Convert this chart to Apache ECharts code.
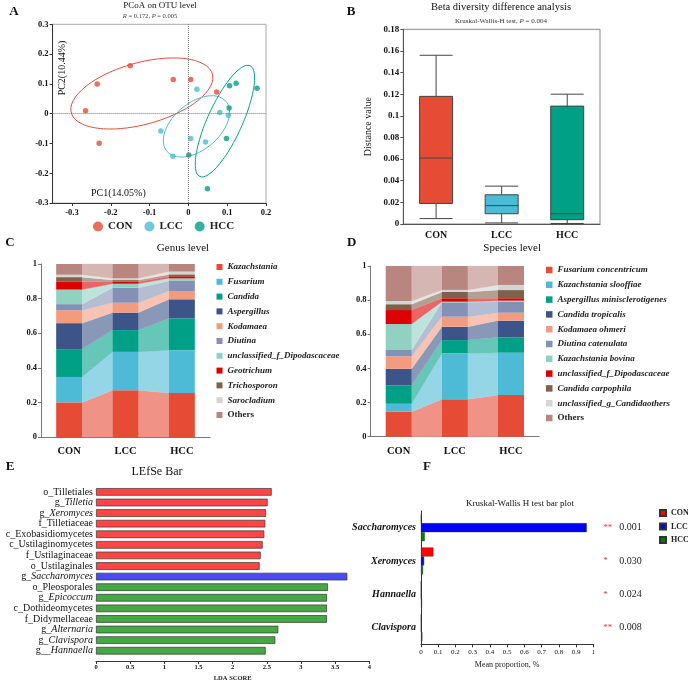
<!DOCTYPE html>
<html><head><meta charset="utf-8">
<script src="https://cdn.jsdelivr.net/npm/echarts@6/dist/echarts.min.js"></script>
<style>
html,body{margin:0;padding:0;background:#fff;width:688px;height:683px;overflow:hidden}
.p{position:absolute;left:0;top:0;width:688px;height:683px}
</style>
</head><body>
<div id="pa" class="p"></div><div id="pb" class="p"></div><div id="pc" class="p"></div>
<div id="pd" class="p"></div><div id="pe" class="p"></div><div id="pf" class="p"></div>
<script>
const F = 'Liberation Serif';

// ---------- A: PCoA ----------
const groups = ['CON', 'LCC', 'HCC'];
const pcoaColors = ['#E64B35', '#4DBBD5', '#00A087'];
const pcoaCON = [[-0.265,0.010],[-0.235,0.100],[-0.150,0.161],[-0.039,0.115],[0.006,0.115],[0.073,0.073],[-0.230,-0.099]];
const pcoaLCC = [[0.022,0.082],[0.081,0.004],[0.103,-0.005],[-0.071,-0.058],[0.006,-0.083],[0.044,-0.095],[-0.040,-0.143]];
const pcoaHCC = [[0.106,0.094],[0.123,0.102],[0.177,0.085],[0.105,0.019],[0.098,-0.083],[0.001,-0.139],[0.049,-0.252]];
const pcTicksX = [-0.3,-0.2,-0.1,0,0.1,0.2];

// ---------- B: boxplot ----------
const boxCON = [0.005, 0.019, 0.061, 0.118, 0.156];
const boxLCC = [0.001, 0.0095, 0.017, 0.027, 0.035];
const boxHCC = [0.0005, 0.004, 0.0095, 0.109, 0.120];

// ---------- C: genus ----------
const genusNames = ['Kazachstania','Fusarium','Candida','Aspergillus','Kodamaea','Diutina','unclassified_f_Dipodascaceae','Geotrichum','Trichosporon','Sarocladium','Others'];
const genusCON = [0.200,0.147,0.161,0.150,0.075,0.035,0.084,0.045,0.027,0.014,0.062];
const genusLCC = [0.270,0.222,0.126,0.101,0.057,0.087,0.023,0.012,0.009,0.010,0.083];
const genusHCC = [0.255,0.247,0.184,0.110,0.048,0.058,0.015,0.012,0.011,0.016,0.044];
const genusColors = ['#E64B35','#4DBBD5','#00A087','#3C5488','#F39B7F','#8491B4','#91D1C2','#DC0000','#7E6148','#D4D4D4','#B9857F'];

// ---------- D: species ----------
const speciesNames = ['Fusarium concentricum','Kazachstania slooffiae','Aspergillus minisclerotigenes','Candida tropicalis','Kodamaea ohmeri','Diutina catenulata','Kazachstania bovina','unclassified_f_Dipodascaceae','Candida carpophila','unclassified_g_Candidaothers','Others'];
const speciesCON = [0.146,0.047,0.108,0.097,0.073,0.037,0.152,0.082,0.034,0.019,0.205];
const speciesLCC = [0.219,0.269,0.078,0.078,0.059,0.084,0.004,0.020,0.037,0.012,0.140];
const speciesHCC = [0.244,0.248,0.090,0.098,0.046,0.065,0.006,0.014,0.048,0.030,0.111];
const speciesColors = ['#E64B35','#4DBBD5','#00A087','#3C5488','#F39B7F','#8491B4','#91D1C2','#DC0000','#7E6148','#D4D4D4','#B9857F'];

// ---------- E: LEfSe ----------
const lefseNames = ['o_Tilletiales','g_Tilletia','g_Xeromyces','f_Tilletiaceae','c_Exobasidiomycetes','c_Ustilaginomycetes','f_Ustilaginaceae','o_Ustilaginales','g_Saccharomyces','o_Pleosporales','g_Epicoccum','c_Dothideomycetes','f_Didymellaceae','g_Alternaria','g_Clavispora','g__Hannaella'];
const lefseScores = [2.571,2.512,2.488,2.478,2.463,2.439,2.410,2.395,3.678,3.395,3.380,3.380,3.380,2.668,2.624,2.483];
const lefseGroups = ['CON','CON','CON','CON','CON','CON','CON','CON','LCC','HCC','HCC','HCC','HCC','HCC','HCC','HCC'];
const lefseColors = {CON:'#FF4545', LCC:'#4B4BF5', HCC:'#45A845'};

// ---------- F: Kruskal-Wallis ----------
const krNames = ['Saccharomyces','Xeromyces','Hannaella','Clavispora'];
const krCON = [0.001,0.072,0.0005,0.0005];
const krLCC = [0.962,0.018,0.0005,0.001];
const krHCC = [0.022,0.012,0.006,0.008];
const krStars = ['**','*','*','**'];
const krP = ['0.001','0.030','0.024','0.008'];
const krColors = ['#FF0000','#0000FF','#008000'];

const fmt = v => String(Math.round(v * 100) / 100);
function txt(text, x, y, size, opts) {
  opts = opts || {};
  return {type:'text', x:x, y:y, rotation:opts.rot || 0, silent:true,
    style:Object.assign({text:text, fontFamily:F, fontSize:size, fontWeight:opts.bold ? 'bold' : 'normal',
      fill:opts.color || '#111', align:opts.align || 'center', verticalAlign:'middle',
      textAlign:opts.align || 'center', textVerticalAlign:'middle'}, opts.rich ? {rich:opts.rich} : {})};
}
function lighten(hex, a) {
  const n = parseInt(hex.slice(1), 16);
  const r = (n >> 16) & 255, g = (n >> 8) & 255, b = n & 255;
  const f = c => Math.round(255 - (255 - c) * a);
  return 'rgb(' + f(r) + ',' + f(g) + ',' + f(b) + ')';
}
function ellipse(pts, k) {
  const n = pts.length;
  const mx = pts.reduce((s, p) => s + p[0], 0) / n, my = pts.reduce((s, p) => s + p[1], 0) / n;
  let sxx = 0, syy = 0, sxy = 0;
  pts.forEach(p => { sxx += (p[0]-mx)**2; syy += (p[1]-my)**2; sxy += (p[0]-mx)*(p[1]-my); });
  sxx /= n - 1; syy /= n - 1; sxy /= n - 1;
  const tr = (sxx + syy) / 2, d = Math.sqrt(((sxx - syy) / 2) ** 2 + sxy * sxy);
  const l1 = tr + d, l2 = Math.max(tr - d, 0);
  const th = 0.5 * Math.atan2(2 * sxy, sxx - syy);
  const a = Math.sqrt(k * l1), b = Math.sqrt(k * l2);
  const out = [];
  for (let i = 0; i <= 120; i++) {
    const t = i / 120 * 2 * Math.PI;
    out.push([mx + a * Math.cos(t) * Math.cos(th) - b * Math.sin(t) * Math.sin(th),
              my + a * Math.cos(t) * Math.sin(th) + b * Math.sin(t) * Math.cos(th)]);
  }
  return out;
}
const axisTxt = (size, bold) => ({fontFamily:F, fontSize:size, fontWeight:bold ? 'bold' : 'normal', color:'#111'});

// ===== Panel A =====
const pcoaSets = [pcoaCON, pcoaLCC, pcoaHCC];
echarts.init(document.getElementById('pa')).setOption({
  animation:false,
  grid:{left:52.6, top:24.3, width:213.4, height:178.8, show:true, borderColor:'#aaa', borderWidth:1},
  xAxis:{type:'value', min:-0.35, max:0.2, splitLine:{show:false},
    axisLine:{show:true, onZero:false, lineStyle:{color:'#333'}},
    axisTick:{show:true, customValues:pcTicksX, length:3, lineStyle:{color:'#333'}},
    axisLabel:Object.assign({customValues:pcTicksX, formatter:fmt, margin:5}, axisTxt(8.5, true))},
  yAxis:{type:'value', min:-0.3, max:0.3, interval:0.1, splitLine:{show:false},
    axisLine:{show:true, onZero:false, lineStyle:{color:'#333'}},
    axisTick:{show:true, length:3, lineStyle:{color:'#333'}},
    axisLabel:Object.assign({formatter:fmt, margin:4}, axisTxt(8.5, true))},
  legend:{data:groups, left:93, top:221, padding:0, itemWidth:10, itemHeight:10, itemGap:12, icon:'circle',
    textStyle:{fontFamily:F, fontWeight:'bold', fontSize:11, color:'#222'}},
  graphic:[
    txt('A', 14, 12, 13, {bold:true}),
    txt('PCoA on OTU level', 160, 6, 9),
    txt('{i|R} = 0.172, {i|P} = 0.005', 150, 16, 6.5, {color:'#444', rich:{i:{fontStyle:'italic', fontFamily:F, fontSize:6.5, fill:'#444'}}}),
    txt('PC2(10.44%)', 62, 68, 10, {rot:Math.PI/2}),
    txt('PC1(14.05%)', 91, 193, 10, {align:'left'})
  ],
  series: pcoaSets.map((d, i) => ({name:groups[i], type:'scatter', data:d, symbolSize:5.5,
      itemStyle:{color:pcoaColors[i]}, z:3,
      markLine: i === 0 ? {silent:true, symbol:['none','none'], label:{show:false},
        lineStyle:{type:'dotted', color:'#777', width:1}, data:[{xAxis:0},{yAxis:0}]} : undefined}))
    .concat(pcoaSets.map((d, i) => ({name:groups[i] + ' ellipse', type:'line', data:ellipse(d, 1.88),
      showSymbol:false, symbol:'none', lineStyle:{color:pcoaColors[i], width:1}, z:2, silent:true})))
});

// ===== Panel B =====
const boxSets = [boxCON, boxLCC, boxHCC];
echarts.init(document.getElementById('pb')).setOption({
  animation:false,
  grid:{left:403.3, top:29.3, width:196.7, height:194.7, show:true, borderColor:'#888', borderWidth:1},
  xAxis:{type:'category', data:groups, axisLine:{lineStyle:{color:'#555'}}, axisTick:{alignWithLabel:true, length:3, lineStyle:{color:'#555'}},
    axisLabel:Object.assign({margin:6}, axisTxt(10, true))},
  yAxis:{type:'value', min:0, max:0.18, interval:0.02, splitLine:{show:false},
    axisLine:{show:true, lineStyle:{color:'#555'}}, axisTick:{show:true, length:3, lineStyle:{color:'#555'}},
    axisLabel:Object.assign({formatter:fmt, margin:4}, axisTxt(9, true)),
    name:'Distance value', nameLocation:'middle', nameGap:30, nameTextStyle:{fontFamily:F, fontSize:10, color:'#222'}},
  graphic:[
    txt('B', 351, 12, 13, {bold:true}),
    txt('Beta diversity difference analysis', 501, 7, 10.5),
    txt('Kruskal-Wallis-H test, {i|P} = 0.004', 501, 21, 7, {color:'#333', rich:{i:{fontStyle:'italic', fontFamily:F, fontSize:7, fill:'#333'}}})
  ],
  series:[{type:'boxplot', boxWidth:[33,33],
    data: boxSets.map((b, i) => ({value:b, itemStyle:{color:pcoaColors[i], borderColor:'#444', borderWidth:1}}))}]
});

// ===== Stacked panels C & D =====
function stackPanel(el, names, sets, colors, grid, legendPos, barW, letter, title, fontSizeLeg, iconSz) {
  const vals = names.map((n, t) => sets.map(s => s[t]));
  const cum = names.map((n, t) => sets.map((s, j) => { let c = 0; for (let k = 0; k < t; k++) c += s[k]; return c; }));
  const gapData = [];
  names.forEach((n, t) => { for (let j = 0; j < sets.length - 1; j++) gapData.push([j, t]); });
  const series = [{type:'custom', name:'gap', silent:true, z:1, data:gapData,
    renderItem:(params, api) => {
      const j = api.value(0), t = api.value(1), hw = barW / 2;
      const lo0 = cum[t][j], hi0 = lo0 + vals[t][j], lo1 = cum[t][j+1], hi1 = lo1 + vals[t][j+1];
      const a = api.coord([j, lo0]), b = api.coord([j, hi0]), c = api.coord([j+1, hi1]), d = api.coord([j+1, lo1]);
      return {type:'polygon', shape:{points:[[a[0]+hw,a[1]],[b[0]+hw,b[1]],[c[0]-hw,c[1]],[d[0]-hw,d[1]]]},
        style:{fill:lighten(colors[t], 0.6), stroke:lighten(colors[t], 0.6), lineWidth:0.3}};
    }}];
  names.forEach((n, t) => series.push({name:n, type:'bar', stack:'s', barWidth:barW, data:vals[t],
    itemStyle:{color:colors[t]}, z:2}));
  echarts.init(document.getElementById(el)).setOption({
    animation:false,
    grid:grid,
    xAxis:{type:'category', data:groups, axisLine:{lineStyle:{color:'#777'}},
      axisTick:{alignWithLabel:true, length:3, lineStyle:{color:'#777'}}, axisLabel:Object.assign({margin:9}, axisTxt(10.5, true))},
    yAxis:{type:'value', min:0, max:1, interval:0.2, splitLine:{show:false},
      axisLine:{show:true, lineStyle:{color:'#777'}}, axisTick:{show:true, length:3, lineStyle:{color:'#777'}},
      axisLabel:Object.assign({formatter:fmt, margin:4}, axisTxt(8.5, true))},
    legend:{data:names, orient:'vertical', left:legendPos[0], top:legendPos[1], padding:0, itemWidth:iconSz, itemHeight:iconSz, itemGap:4.8, icon:'rect',
      formatter:n => n === 'Others' ? '{n|Others}' : n,
      textStyle:{fontFamily:F, fontSize:fontSizeLeg, fontWeight:'bold', fontStyle:'italic', color:'#222', lineHeight:10,
        rich:{n:{fontFamily:F, fontSize:fontSizeLeg, fontWeight:'bold', fontStyle:'normal', color:'#222', lineHeight:10}}}},
    graphic:[txt(letter, grid.left - 31 + (letter === 'D' ? 12 : 0), 243, 13, {bold:true}), txt(title, grid.left + grid.width * 0.84, 248, 11)],
    series:series
  });
}
stackPanel('pc', genusNames, [genusCON, genusLCC, genusHCC], genusColors, {left:41, top:264, width:169, height:173}, [216.5, 262], 26, 'C', 'Genus level', 9, 6);
stackPanel('pd', speciesNames, [speciesCON, speciesLCC, speciesHCC], speciesColors, {left:370.6, top:266, width:168.5, height:170.7}, [546, 265], 26, 'D', 'Species level', 9, 6.5);

// ===== Panel E =====
echarts.init(document.getElementById('pe')).setOption({
  animation:false,
  grid:{left:96, top:486.6, width:273.3, height:171.7},
  xAxis:{type:'value', min:0, max:4, interval:0.5, offset:5, splitLine:{show:false},
    axisLine:{show:true, lineStyle:{color:'#333'}}, axisTick:{show:true, length:3, lineStyle:{color:'#333'}},
    axisLabel:Object.assign({formatter:fmt, margin:3}, axisTxt(6.5, true)),
    name:'LDA SCORE', nameLocation:'middle', nameGap:14, nameTextStyle:{fontFamily:F, fontSize:6.5, fontWeight:'bold', color:'#222'}},
  yAxis:{type:'category', data:lefseNames, inverse:true, axisLine:{show:false}, axisTick:{show:false},
    axisLabel:{interval:0, margin:3, fontFamily:F, fontSize:10, color:'#111',
      formatter:v => { const m = v.match(/^(g_+)(.*)$/); return m ? m[1] + '{i|' + m[2] + '}' : v; },
      rich:{i:{fontFamily:F, fontSize:10, fontStyle:'italic', color:'#111'}}}},
  graphic:[txt('E', 10, 467, 13, {bold:true}), txt('LEfSe Bar', 157, 472, 12)],
  series:[{type:'bar', barWidth:7.6,
    data:lefseScores.map((v, i) => ({value:v, itemStyle:{color:lefseColors[lefseGroups[i]], borderColor:'#333', borderWidth:0.7}}))}]
});

// ===== Panel F =====
const krSets = [krCON, krLCC, krHCC];
echarts.init(document.getElementById('pf')).setOption({
  animation:false,
  grid:{left:421, top:511, width:172.3, height:133.3},
  xAxis:{type:'value', min:0, max:1, interval:0.1, splitLine:{show:false},
    axisLine:{show:true, lineStyle:{color:'#333'}}, axisTick:{show:true, length:3, lineStyle:{color:'#333'}},
    axisLabel:Object.assign({formatter:fmt, margin:4}, axisTxt(7, false)),
    name:'Mean proportion, %', nameLocation:'middle', nameGap:17, nameTextStyle:{fontFamily:F, fontSize:8, color:'#222'}},
  yAxis:[{type:'category', data:krNames, inverse:true, axisLine:{show:true, lineStyle:{color:'#333'}}, axisTick:{show:false},
      axisLabel:{interval:0, margin:5, fontFamily:F, fontSize:10, fontWeight:'bold', fontStyle:'italic', color:'#111'}},
    {type:'category', data:krNames, inverse:true, position:'right', axisLine:{show:false}, axisTick:{show:false},
      axisLabel:{interval:0, margin:10, formatter:(v, i) => '{s|' + krStars[i] + '}{p|' + krP[i] + '}',
        rich:{s:{color:'#EE3333', fontFamily:F, fontSize:9, width:16}, p:{fontFamily:F, fontSize:10, color:'#222'}}}}],
  legend:{data:groups, orient:'vertical', left:659, top:509, padding:0, itemWidth:6, itemHeight:6, itemGap:5.5, icon:'rect',
    textStyle:{fontFamily:F, fontSize:8, fontWeight:'bold', color:'#222'}},
  graphic:[txt('F', 427, 467, 13, {bold:true}), txt('Kruskal-Wallis H test bar plot', 520, 504, 9)],
  series: krSets.map((d, i) => ({name:groups[i], type:'bar', barWidth:9, barGap:'0%', data:d,
    itemStyle:{color:krColors[i], borderColor:'#333', borderWidth:0.4}}))
});
</script>
</body></html>
